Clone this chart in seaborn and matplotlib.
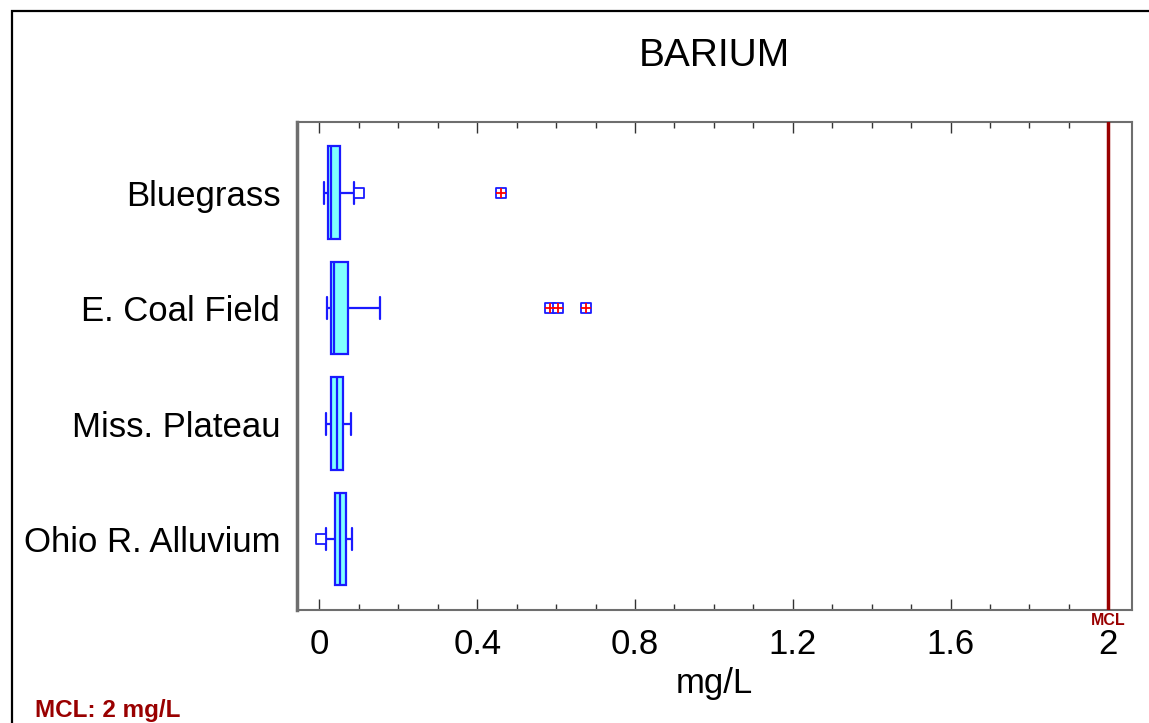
import matplotlib
matplotlib.use("Agg")
import matplotlib.pyplot as plt
from matplotlib.patches import Rectangle
from matplotlib.ticker import MultipleLocator
import matplotlib.transforms as mtransforms
import pandas as pd
import seaborn as sns

# Barium concentrations (mg/L) by physiographic region: box-and-whisker summary
regions = ["Bluegrass", "E. Coal Field", "Miss. Plateau", "Ohio R. Alluvium"]
whisker_low = [0.012, 0.019, 0.016, 0.016]
quartile_1 = [0.022, 0.028, 0.030, 0.040]
median = [0.030, 0.037, 0.044, 0.051]
quartile_3 = [0.052, 0.073, 0.059, 0.067]
whisker_high = [0.088, 0.154, 0.079, 0.082]

# outside points (beyond 1.5 IQR) and far-outside points (beyond 3 IQR)
outside_region = ["Bluegrass", "Ohio R. Alluvium"]
outside_value = [0.101, 0.005]
far_region = ["Bluegrass", "E. Coal Field", "E. Coal Field", "E. Coal Field"]
far_value = [0.459, 0.585, 0.605, 0.676]

MCL = 2.0
x_ticks = [0, 0.4, 0.8, 1.2, 1.6, 2]
x_tick_labels = ["0", "0.4", "0.8", "1.2", "1.6", "2"]

# five summary values per region reproduce the box exactly with linear quantiles
rows = []
for i, reg in enumerate(regions):
    for v in (whisker_low[i], quartile_1[i], median[i], quartile_3[i], whisker_high[i]):
        rows.append({"region": reg, "mg/L": v})
box_df = pd.DataFrame(rows)
out_df = pd.DataFrame({"region": outside_region, "mg/L": outside_value})
far_df = pd.DataFrame({"region": far_region, "mg/L": far_value})

sns.set_theme(style="white")
plt.rcParams["font.family"] = ["Liberation Sans", "DejaVu Sans"]

W, H = 1149, 723
fig = plt.figure(figsize=(W / 100, H / 100), dpi=100)
ax = fig.add_axes([297 / W, 1 - 610 / H, (1132 - 297) / W, (610 - 122) / H])

blue = "#1a1aff"
sns.boxplot(data=box_df, x="mg/L", y="region", order=regions, orient="h",
            whis=(0, 100), width=0.8, color="#80ffff", saturation=1,
            linecolor=blue, linewidth=1.6, showfliers=False,
            capwidths=0.19, ax=ax)

sns.stripplot(data=out_df, x="mg/L", y="region", order=regions, orient="h",
              jitter=False, marker="s", size=7, color="white",
              edgecolor=blue, linewidth=1.3, ax=ax)
sns.stripplot(data=far_df, x="mg/L", y="region", order=regions, orient="h",
              jitter=False, marker="s", size=7, color="white",
              edgecolor=blue, linewidth=1.3, ax=ax)
sns.stripplot(data=far_df, x="mg/L", y="region", order=regions, orient="h",
              jitter=False, marker="+", size=7.5, color="red",
              linewidth=1.3, ax=ax, zorder=5)

mcl_color = "#990000"
ax.axvline(MCL, color=mcl_color, lw=2.5, zorder=6)
trans = mtransforms.blended_transform_factory(ax.transData, ax.transAxes)
ax.text(MCL, -0.006, "MCL", transform=trans, ha="center", va="top",
        fontsize=11.5, fontweight="bold", color=mcl_color)

ax.set_xlim(-0.057, 2.06)
ax.set_ylim(3.613, -0.612)

ax.set_xticks(x_ticks)
ax.set_xticklabels(x_tick_labels, fontsize=25)
ax.xaxis.set_minor_locator(MultipleLocator(0.1))
ax.tick_params(axis="x", which="both", direction="in", top=True, bottom=True,
               color="#333333", width=1, pad=13, labelcolor="black")
ax.tick_params(axis="x", which="major", length=8)
ax.tick_params(axis="x", which="minor", length=4)
ax.tick_params(axis="y", length=0, pad=12, labelsize=25, labelcolor="black")

ax.set_ylabel("")
ax.set_xlabel("mg/L", fontsize=25, color="black", labelpad=4)
ax.set_title("BARIUM", fontsize=28, color="black", pad=40)

for name, sp in ax.spines.items():
    sp.set_color("#6e6e6e")
    sp.set_linewidth(1.5)
ax.spines["left"].set_linewidth(2.5)

fig.text(35 / W, 1 - 711 / H, "MCL: 2 mg/L", ha="left", va="center",
         fontsize=17.5, fontweight="bold", color=mcl_color)

# outer frame around the page
fig.patches.append(Rectangle((12 / W, -0.1), 1.2, (H - 11) / H + 0.1,
                             transform=fig.transFigure, fill=False,
                             ec="black", lw=1.6))

fig.savefig("out.png", dpi=100)
